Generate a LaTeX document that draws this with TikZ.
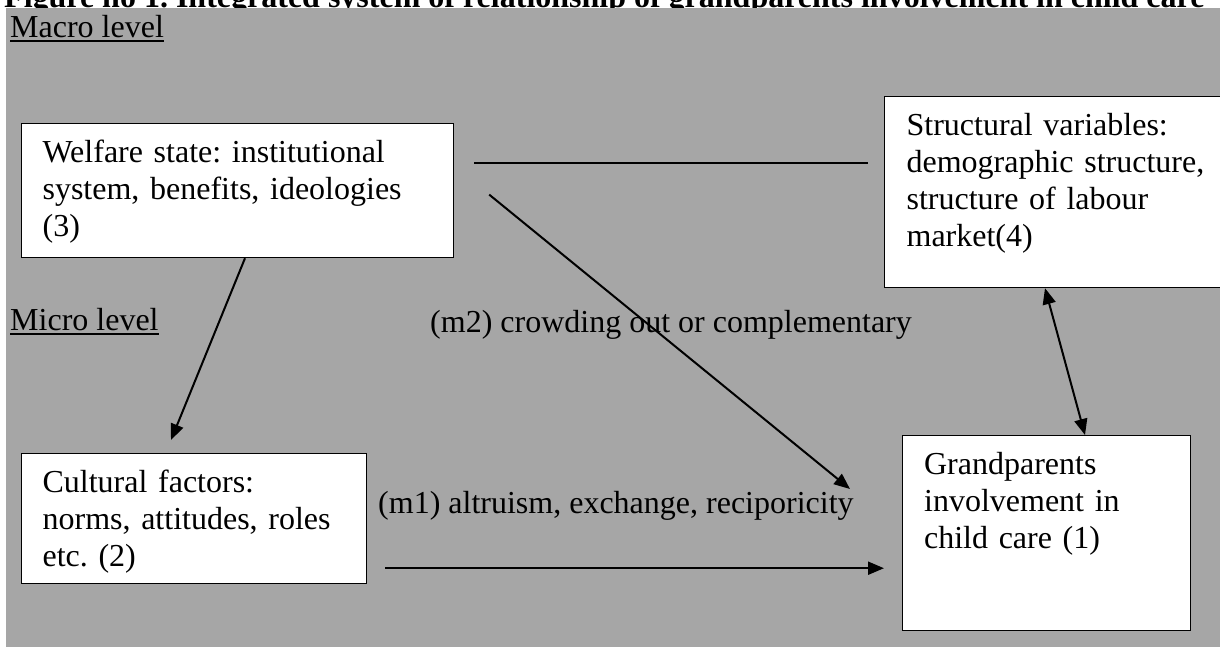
\documentclass[tikz,border=0pt]{standalone}
\usepackage{fontspec}
\setmainfont{Liberation Serif}
\frenchspacing
\usetikzlibrary{arrows.meta}
\definecolor{backgray}{RGB}{166,166,166}
\tikzset{box/.style={draw,line width=1.2pt,fill=white,anchor=north west,align=left,inner xsep=21pt,inner ysep=13pt,text height=26pt}}
\tikzset{level/.style={anchor=base west,inner sep=0pt}}
\tikzset{tie/.style={line width=2pt}}
\tikzset{link/.style={-{Triangle[length=16pt,width=13pt]},line width=2pt}}
\tikzset{both/.style={{Triangle[length=16pt,width=13pt]}-{Triangle[length=16pt,width=13pt]},line width=2pt}}

\begin{document}
\begin{tikzpicture}[x=1pt,y=-1pt,font=\fontsize{32pt}{36.8pt}\selectfont]
  \useasboundingbox (0,0) rectangle (1220,646);
  \node[level,font=\fontsize{32pt}{36.8pt}\selectfont\bfseries] (title) at (4,7)
    {Figure no 1. Integrated system of relationship of grandparents involvement in child care};
  \fill[backgray] (6,8) rectangle (1232,652);
  \node[level] (macro) at (10,37) {Macro level};
  \node[level] (micro) at (10,330) {Micro level};
  \draw[line width=1.5pt] ([yshift=-4pt]macro.base west) -- ([yshift=-4pt]macro.base east);
  \draw[line width=1.5pt] ([yshift=-4pt]micro.base west) -- ([yshift=-4pt]micro.base east);
  \node[box,text width=390pt,text depth=82pt] (welfare) at (21,123)
    {Welfare state: institutional\\system, benefits, ideologies\\(3)};
  \node[box,inner xsep=22pt,text width=302pt,text depth=139pt] (structural) at (884,96)
    {Structural variables:\\demographic structure,\\structure of labour\\market(4)};
  \node[box,text width=303pt,text depth=78pt] (cultural) at (21,453)
    {Cultural factors:\\norms, attitudes, roles\\etc. (2)};
  \node[box,inner xsep=21.5pt,text width=245pt,text depth=143pt] (grand) at (902,435)
    {Grandparents\\involvement in\\child care (1)};
  \node[level] (m2) at (430,332) {(m2) crowding out or complementary};
  \node[level] (m1) at (378,513) {(m1) altruism, exchange, reciporicity};
  \coordinate (tieL) at (474,163);
  \coordinate (tieR) at (868,163);
  \draw[tie] (tieL) -- (tieR);
  \draw[link] ([xshift=224pt]welfare.south west) -- ([shift={(150,-13)}]cultural.north west);
  \draw[link] ([shift={(35,4)}]welfare.east) -- ([shift={(-52,54)}]grand.north west);
  \draw[link] ([shift={(18,-16)}]cultural.south east) -- ([shift={(-18,-63)}]grand.south west);
  \draw[both] ([xshift=161pt]structural.south west) -- ([xshift=183pt]grand.north west);
\end{tikzpicture}
\end{document}
